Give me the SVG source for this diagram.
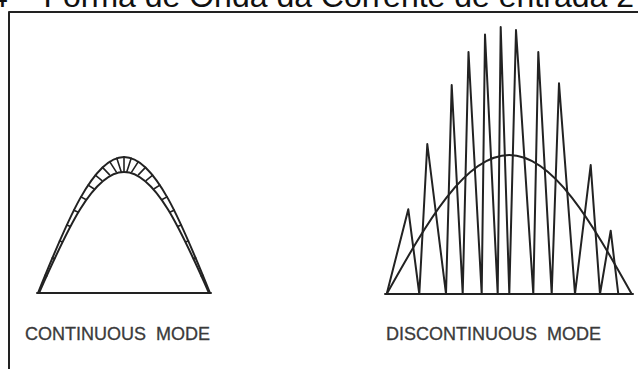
<svg xmlns="http://www.w3.org/2000/svg" width="638" height="369" viewBox="0 0 638 369">
<style>
.ln{fill:none;stroke:#222;stroke-width:2;stroke-linejoin:round;stroke-linecap:round}
.th{fill:none;stroke:#222;stroke-width:1.6;stroke-linecap:round}
.lbl{font-family:"Liberation Sans",Arial,sans-serif;font-size:18px;fill:#3a3a3a;stroke:#3a3a3a;stroke-width:0.3}
.ttl{font-family:"Liberation Sans",Arial,sans-serif;font-size:32px;fill:#111}
</style>
<rect width="638" height="369" fill="#fff"/>
<text class="ttl" x="-10" y="7">4 – Forma de Onda da Corrente de entrada 2</text>
<g id="frame"><path class="ln" d="M9,369 V12 H640" stroke-linecap="butt"/></g>
<g id="continuous">
<path class="ln" d="M37,293 H211"/>
<path class="ln" d="M38,293 C66.05,223.33 92.88,157 124,157 C155.12,157 181.95,223.33 210,293"/>
<path class="ln" d="M39,293 C66.5,231.01 92.88,172 124,172 C155.12,172 181.5,231.01 209,293"/>
<path class="th" d="M45.17,275.25 L46.6,276.2 M52.33,257.8 L54.4,258.8 M59.5,240.95 L62.1,241.87 M66.67,225 L69.9,226.33 M73.83,210.2 L77.8,212.07 M81,196.83 L85.8,199.43 M88.17,185.1 L93.8,188.72 M95.33,175.22 L101.67,180.33 M102.5,167.35 L109.42,174.63 M109.67,161.64 L116.26,171.89 M116.83,158.17 L121.19,171.63 M124,157 L124,172 M131.17,158.17 L126.81,171.63 M138.33,161.64 L131.74,171.89 M145.5,167.35 L138.58,174.63 M152.67,175.22 L146.33,180.33 M159.83,185.1 L154.2,188.72 M167,196.83 L162.2,199.43 M174.17,210.2 L170.2,212.07 M181.33,225 L178.1,226.33 M188.5,240.95 L185.9,241.87 M195.67,257.8 L193.6,258.8 M202.83,275.25 L201.4,276.2"/>
<text class="lbl" x="25" y="340" xml:space="preserve">CONTINUOUS  MODE</text>
</g>
<g id="discontinuous">
<path class="ln" d="M385,294 H633"/>
<path class="ln" d="M386.7,294 L408.3,209.3 L419.3,294 L427.3,144 L446,294 L451.7,85 L462.7,294 L468.5,52 L481.7,294 L485,34.5 L497.7,294 L500.7,27 L509.3,294 L516,30 L533.3,294 L538.3,52 L551.7,294 L559,83.3 L575,294 L590.7,165 L600,294 L610.7,230.7 L618.3,294"/>
<path class="ln" d="M386.7,294 C426.65,222.79 464.87,155 509.2,155 C553.53,155 591.75,222.79 631.7,294"/>
<text class="lbl" x="386" y="340" xml:space="preserve">DISCONTINUOUS  MODE</text>
</g>
</svg>
